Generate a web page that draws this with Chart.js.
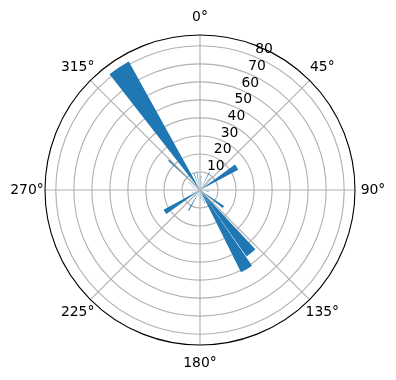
<!DOCTYPE html>
<html>
<head>
<meta charset="utf-8">
<script src="https://cdn.jsdelivr.net/npm/chart.js@4/dist/chart.umd.min.js"></script>
<style>
html,body{margin:0;padding:0;background:#fff;}
canvas{display:block;}
</style>
</head>
<body>
<canvas id="c" width="396" height="380"></canvas>
<script>
// Bar directions (degrees, clockwise from north), angular widths (degrees) and lengths
const barDirections = [5, 12, 28, 40, 58, 100, 126, 141, 149.5, 160, 167, 175, 195, 209, 238, 250, 290, 303, 314, 326.5, 340, 350];
const barWidths     = [2,  2,  2,  2,  8,   3,   5,   8,   8,     2,   2,   2,   2,   3,   7,   2,   2,   2,   3,   9,     2,   2];
const barLengths    = [8,  5, 11,  9, 24,   5,  16,  45,  51,     8,   6,   5,   4,  13,  23,   5,   5,   8,  24,  81.5,  10,  10];

const radialTicks = [10, 20, 30, 40, 50, 60, 70, 80];
const radialMax = 86;
const angleTicks = [0, 45, 90, 135, 180, 225, 270, 315];
const angleTickLabels = ['0°', '45°', '90°', '135°', '180°', '225°', '270°', '315°'];

// Build consecutive segments (bars + empty gaps) for the polarArea controller
const segValues = [];
const segAngles = [];
let cursor = 0;
barDirections.forEach((d, i) => {
  const s = d - barWidths[i] / 2;
  if (s - cursor > 1e-6) { segValues.push(0); segAngles.push(s - cursor); }
  segValues.push(barLengths[i]);
  segAngles.push(barWidths[i]);
  cursor = s + barWidths[i];
});
if (360 - cursor > 1e-6) { segValues.push(0); segAngles.push(360 - cursor); }

const FONT = '13.9px "DejaVu Sans"';

const decorPlugin = {
  id: 'decor',
  afterDraw(chart) {
    const s = chart.scales.r;
    const ctx = chart.ctx;
    const cx = s.xCenter, cy = s.yCenter;
    const R = s.getDistanceFromCenterForValue(radialMax);
    ctx.save();
    // spokes
    ctx.strokeStyle = '#b0b0b0';
    ctx.lineWidth = 1.1;
    angleTicks.forEach(a => {
      const rad = (a - 90) * Math.PI / 180;
      ctx.beginPath();
      ctx.moveTo(cx, cy);
      ctx.lineTo(cx + R * Math.cos(rad), cy + R * Math.sin(rad));
      ctx.stroke();
    });
    // outer frame
    ctx.strokeStyle = '#000';
    ctx.lineWidth = 1.1;
    ctx.beginPath();
    ctx.arc(cx, cy, R, 0, Math.PI * 2);
    ctx.stroke();
    // angle labels
    ctx.fillStyle = '#000';
    ctx.font = FONT;
    ctx.textAlign = 'center';
    ctx.textBaseline = 'middle';
    angleTicks.forEach((a, i) => {
      const rad = (a - 90) * Math.PI / 180;
      const rr = R + 18;
      ctx.fillText(angleTickLabels[i], cx + rr * Math.cos(rad), cy + rr * Math.sin(rad));
    });
    // radial labels along 22.5 deg
    ctx.textAlign = 'left';
    ctx.textBaseline = 'bottom';
    const la = (22.5 - 90) * Math.PI / 180;
    radialTicks.forEach(v => {
      const rr = s.getDistanceFromCenterForValue(v);
      ctx.fillText(String(v), cx + rr * Math.cos(la), cy + rr * Math.sin(la));
    });
    ctx.restore();
  }
};

new Chart(document.getElementById('c'), {
  type: 'polarArea',
  data: {
    labels: segValues.map(() => ''),
    datasets: [{
      data: segValues,
      angle: segAngles,
      backgroundColor: '#1f77b4',
      borderWidth: 0
    }]
  },
  options: {
    responsive: false,
    animation: false,
    layout: { padding: { left: 45, right: 41, top: 35, bottom: 35 } },
    plugins: { legend: { display: false }, tooltip: { enabled: false } },
    scales: {
      r: {
        z: 1,
        min: 0,
        max: radialMax,
        startAngle: 0,
        ticks: { display: false, stepSize: 10, includeBounds: false },
        grid: { display: true, circular: true, color: '#b0b0b0', lineWidth: 1.1 },
        angleLines: { display: false },
        pointLabels: { display: false }
      }
    }
  },
  plugins: [decorPlugin]
});
</script>
</body>
</html>
